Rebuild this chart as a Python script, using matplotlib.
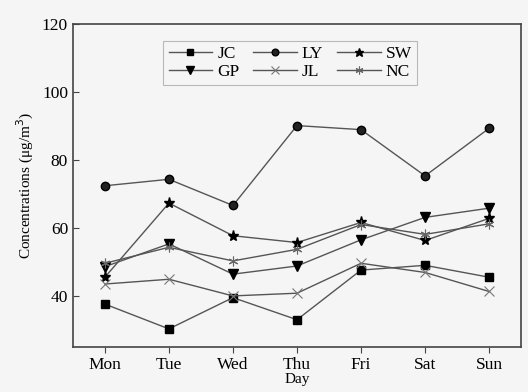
import matplotlib
matplotlib.use("Agg")
import matplotlib.pyplot as plt

days = ["Mon", "Tue", "Wed", "Thu", "Fri", "Sat", "Sun"]
JC = [37.6, 30.3, 39.5, 33.0, 47.6, 49.0, 45.5]
LY = [72.4, 74.3, 66.6, 90.1, 88.9, 75.3, 89.3]
SW = [45.5, 67.3, 57.7, 55.7, 61.6, 56.3, 62.8]
GP = [48.6, 55.3, 46.4, 48.8, 56.5, 63.1, 65.8]
JL = [43.5, 44.9, 40.0, 40.8, 49.6, 46.9, 41.3]
NC = [49.6, 54.3, 50.3, 53.7, 61.0, 58.1, 61.2]

plt.rcParams['font.family'] = ['Liberation Serif', 'DejaVu Serif']
bg = '#f5f5f5'
fig = plt.figure(figsize=(5.28, 3.92), dpi=100, facecolor=bg)
ax = fig.add_axes([0.138, 0.115, 0.849, 0.824], facecolor=bg)

x = list(range(len(days)))
lc = '#555555'
kw = dict(color=lc, lw=1.0, markerfacecolor='black', markeredgecolor='black')
series = [
    ("JC", JC, dict(marker='s', ms=6)),
    ("LY", LY, dict(marker='o', ms=6, markerfacecolor='#222222')),
    ("SW", SW, dict(marker='*', ms=8)),
    ("GP", GP, dict(marker='v', ms=7)),
    ("JL", JL, dict(marker='x', ms=7, markeredgecolor='#777777', markeredgewidth=0.8)),
    ("NC", NC, dict(marker=(6, 2, 0), ms=7, markeredgecolor='#666666', markeredgewidth=0.8)),
]
handles = {}
for name, vals, mk in series:
    d = dict(kw); d.update(mk)
    h, = ax.plot(x, vals, label=name, **d)
    handles[name] = h

order = ["JC", "GP", "LY", "JL", "SW", "NC"]
leg = ax.legend([handles[n] for n in order], order, ncol=3, loc='upper center',
                bbox_to_anchor=(0.485, 0.975), fontsize=12.5, frameon=True,
                fancybox=False, edgecolor='#aaaaaa', facecolor=bg,
                handlelength=2.5, columnspacing=0.8, handletextpad=0.3,
                labelspacing=0.1, borderpad=0.3, markerscale=0.8)
leg.get_frame().set_linewidth(0.8)

ax.set_xlim(-0.5, 6.5)
ax.set_ylim(25, 120)
ax.set_yticks([40, 60, 80, 100, 120])
ax.set_xticks(x)
ax.set_xticklabels(days)
ax.tick_params(axis='y', direction='in', length=4, labelsize=12.5, color='#444444')
ax.tick_params(axis='x', direction='out', length=4, labelsize=12.5, color='#444444')
ax.set_xlabel("Day", fontsize=11, labelpad=0)
ax.set_ylabel("Concentrations (μg/m$^3$)", fontsize=11, labelpad=4)
for s in ax.spines.values():
    s.set_color('#444444')
    s.set_linewidth(1.2)

fig.savefig("out.png", dpi=100, facecolor=bg)
